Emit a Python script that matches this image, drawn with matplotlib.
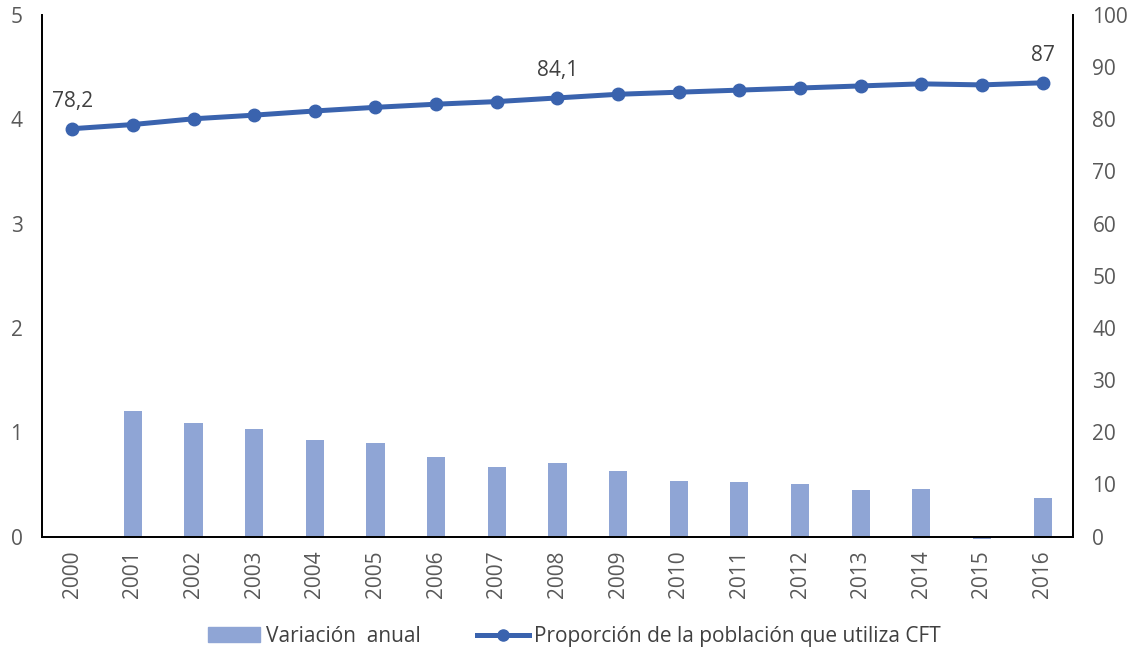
import matplotlib
matplotlib.use('Agg')
import matplotlib.pyplot as plt
from matplotlib.lines import Line2D
from matplotlib.patches import Patch

# Data
years = [str(y) for y in range(2000, 2017)]
variacion = [0.0, 1.20, 1.09, 1.03, 0.93, 0.90, 0.76, 0.67, 0.71, 0.625,
             0.53, 0.52, 0.50, 0.45, 0.46, -0.02, 0.37]
proporcion = [78.2, 79.0, 80.1, 80.8, 81.6, 82.3, 82.9, 83.4, 84.1, 84.8,
              85.2, 85.6, 86.0, 86.4, 86.8, 86.6, 87.0]
labelled = {0: '78,2', 8: '84,1', 16: '87'}

BAR_COLOR = '#8FA5D5'
LINE_COLOR = '#3A63AE'
TICK_COLOR = '#595959'
FS = 15

plt.rcParams['font.family'] = ['Open Sans', 'DejaVu Sans']

fig = plt.figure(figsize=(11.33, 6.52), dpi=100)
ax = fig.add_axes([0.037, 0.177, 0.910, 0.800])
ax2 = ax.twinx()

x = list(range(len(years)))
ax.bar(x, variacion, width=0.3, color=BAR_COLOR, clip_on=False, zorder=2)
ax2.plot(x, proporcion, color=LINE_COLOR, lw=3.6, marker='o', markersize=9,
         solid_capstyle='round', zorder=3)

for i, txt in labelled.items():
    ax2.annotate(txt, (i, proporcion[i]), xytext=(0, 12), textcoords='offset points',
                 ha='center', va='bottom', fontsize=FS, color='#404040')

ax.set_xlim(-0.5, len(years) - 0.5)
ax.set_ylim(0, 5)
ax2.set_ylim(0, 100)
ax.set_yticks(range(0, 6))
ax2.set_yticks(range(0, 101, 10))
ax.set_xticks(x)
ax.set_xticklabels(years, rotation=90)

for a in (ax, ax2):
    a.tick_params(length=0, labelsize=FS, labelcolor=TICK_COLOR)
    a.spines['top'].set_visible(False)
    for s in ('left', 'right', 'bottom'):
        a.spines[s].set_color('black')
        a.spines[s].set_linewidth(1.3)
ax.tick_params(axis='y', pad=14)
ax2.tick_params(axis='y', pad=14)
ax.tick_params(axis='x', pad=10)

handles = [Patch(color=BAR_COLOR),
           Line2D([], [], color=LINE_COLOR, lw=3.6, marker='o', markersize=8)]
fig.legend(handles, ['Variación  anual', 'Proporción de la población que utiliza CFT'],
           loc='center', bbox_to_anchor=(0.507, 0.024), ncol=2, frameon=False,
           fontsize=FS, labelcolor='#404040', handlelength=2.5, handletextpad=0.25,
           columnspacing=2.7)

fig.savefig('out.png', dpi=100)
